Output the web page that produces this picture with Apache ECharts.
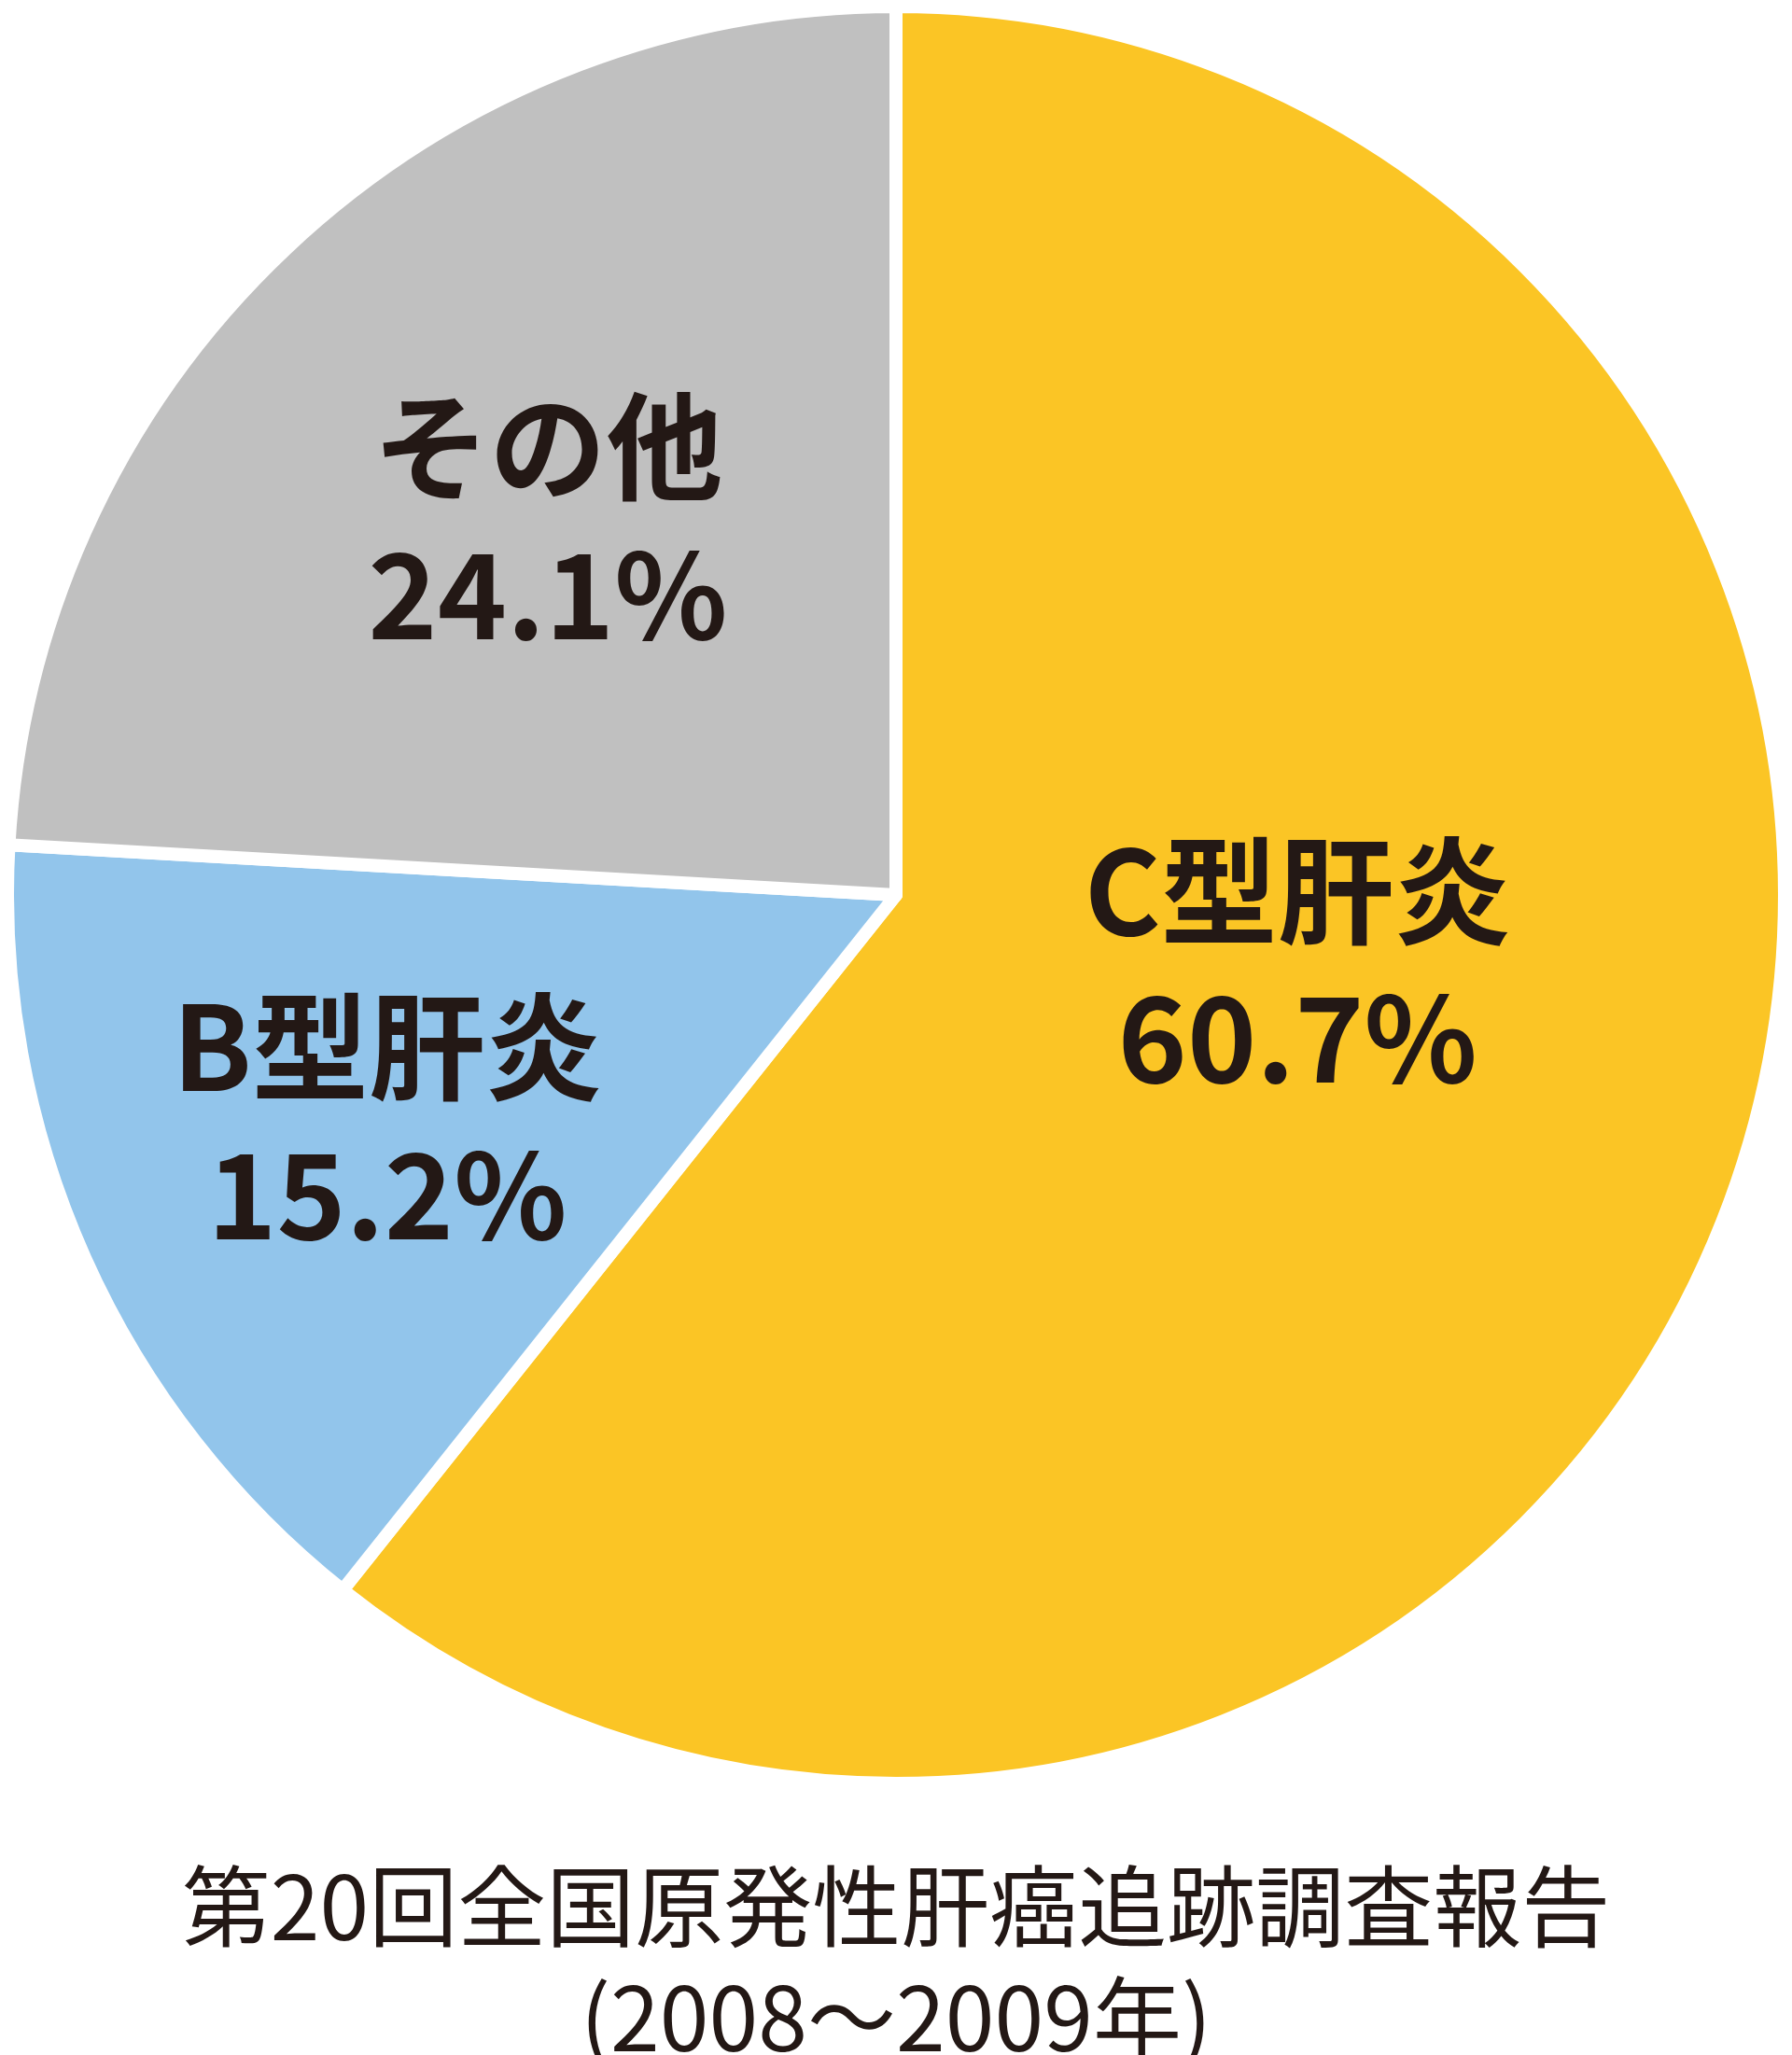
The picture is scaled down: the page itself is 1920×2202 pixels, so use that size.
<!DOCTYPE html>
<html>
<head>
<meta charset="utf-8">
<script src="https://cdn.jsdelivr.net/npm/echarts@6/dist/echarts.min.js"></script>
<style>
html,body{margin:0;padding:0;background:#fff;}
#chart{width:1920px;height:2202px;}
</style>
</head>
<body>
<div id="chart"></div>
<script>
const categories = ['C型肝炎', 'B型肝炎', 'その他'];
const values = [60.7, 15.2, 24.1];
const colors = ['#FBC525', '#92C5EB', '#C0C0C0'];
const labelOffsets = [[-22, -84], [-108, 46], [-44, -53]];
const captionLines = ['第20回全国原発性肝癌追跡調査報告', '(2008～2009年)'];

const chart = echarts.init(document.getElementById('chart'), null, {renderer: 'canvas'});
const textColor = '#231815';
const font = '"Noto Sans CJK JP", "Noto Sans", sans-serif';

const option = {
  backgroundColor: '#ffffff',
  animation: false,
  title: {
    text: captionLines.join('\n'),
    left: 'center',
    top: 1978,
    textStyle: {
      fontFamily: font,
      fontSize: 95,
      fontWeight: 'normal',
      color: textColor,
      lineHeight: 119
    }
  },
  series: [{
    type: 'pie',
    center: [960, 959],
    radius: [0, 952],
    startAngle: 90,
    clockwise: true,
    avoidLabelOverlap: false,
    itemStyle: {borderColor: '#ffffff', borderWidth: 14},
    emphasis: {disabled: true},
    label: {
      show: true,
      position: 'inside',
      formatter: p => '{n|' + p.name + '}\n{v|' + p.value.toFixed(1) + '%}',
      rich: {
        n: {fontFamily: font, fontSize: 125, fontWeight: 'bold', color: textColor, lineHeight: 158, align: 'center'},
        v: {fontFamily: font, fontSize: 126, fontWeight: 'bold', color: textColor, lineHeight: 158, align: 'center'}
      }
    },
    labelLine: {show: false},
    data: categories.map((c, i) => ({
      name: c,
      value: values[i],
      itemStyle: {color: colors[i]},
      label: {offset: labelOffsets[i]}
    }))
  }]
};
chart.setOption(option);
</script>
</body>
</html>
